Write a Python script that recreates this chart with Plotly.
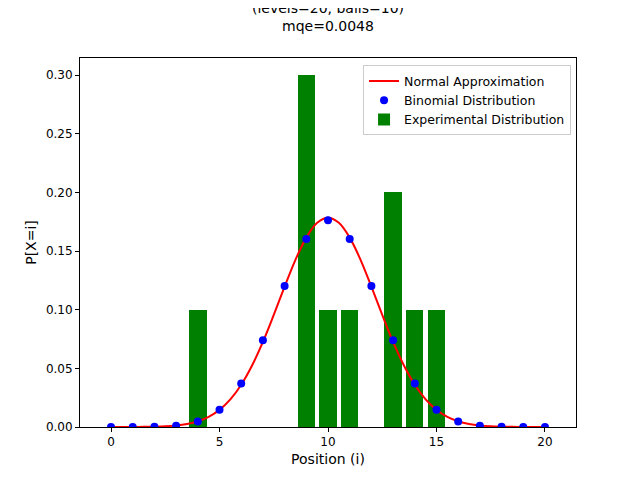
import plotly.graph_objects as go

positions = list(range(21))
binomial = [0.000001, 0.00002, 0.0002, 0.0011, 0.0046, 0.0148, 0.0370, 0.0739, 0.1201, 0.1602,
            0.1762, 0.1602, 0.1201, 0.0739, 0.0370, 0.0148, 0.0046, 0.0011, 0.0002, 0.00002, 0.000001]

curve_x = [i / 2 for i in range(41)]
curve_y = [0.0, 0.00002, 0.00005, 0.00013, 0.0003, 0.00064, 0.0013, 0.0026, 0.0049, 0.0087,
           0.0146, 0.0235, 0.0360, 0.0524, 0.0725, 0.0955, 0.1196, 0.1425, 0.1614, 0.1740,
           0.1784, 0.1740, 0.1614, 0.1425, 0.1196, 0.0955, 0.0725, 0.0524, 0.0360, 0.0235,
           0.0146, 0.0087, 0.0049, 0.0026, 0.0013, 0.00064, 0.0003, 0.00013, 0.00005, 0.00002, 0.0]

exp_x = [4, 9, 10, 11, 13, 14, 15]
exp_y = [0.1, 0.3, 0.1, 0.1, 0.2, 0.1, 0.1]

fig = go.Figure()
fig.add_trace(go.Bar(x=exp_x, y=exp_y, width=0.8, marker=dict(color="green", line=dict(width=0)),
                     name="Experimental Distribution", legendrank=3))
fig.add_trace(go.Scatter(x=curve_x, y=curve_y, mode="lines", line=dict(color="red", width=2, shape="spline"),
                         name="Normal Approximation", legendrank=1))
fig.add_trace(go.Scatter(x=positions, y=binomial, mode="markers", marker=dict(color="blue", size=8),
                         name="Binomial Distribution", legendrank=2))

axis = dict(showgrid=False, zeroline=False, showline=True, linecolor="black", mirror=True,
            ticks="outside", ticklen=4, tickcolor="black")
fig.update_layout(
    width=640, height=480, plot_bgcolor="white", paper_bgcolor="white",
    font=dict(family="DejaVu Sans", size=12, color="black"),
    margin=dict(l=72, r=72, t=50, b=61),
    title=dict(text="(levels=20, balls=10)<br>mqe=0.0048", x=0.5, xanchor="center", y=0.99, yanchor="top",
               font=dict(size=14)),
    xaxis=dict(axis, range=[-1.43, 21.43], tickvals=[0, 5, 10, 15, 20], title=dict(text="Position (i)", standoff=5)),
    yaxis=dict(axis, range=[0, 0.3145], tickvals=[0, 0.05, 0.1, 0.15, 0.2, 0.25, 0.3], tickformat=".2f",
               title=dict(text="P[X=i]", standoff=5)),
    legend=dict(x=0.99, y=0.98, xanchor="right", yanchor="top", bordercolor="#ccc", borderwidth=1,
                bgcolor="rgba(255,255,255,0.8)", font=dict(size=12.5)),
    bargap=0,
)
fig.write_html("out.html")
